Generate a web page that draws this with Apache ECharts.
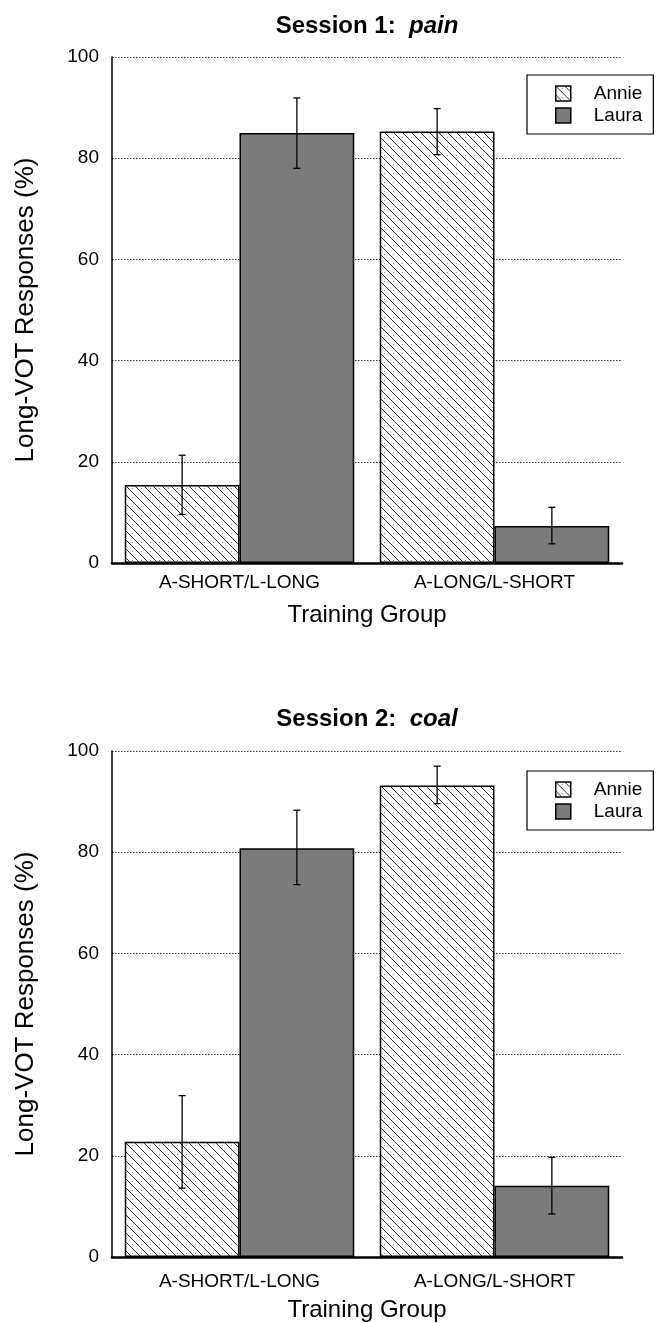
<!DOCTYPE html>
<html>
<head>
<meta charset="utf-8">
<script src="https://cdn.jsdelivr.net/npm/echarts@6/dist/echarts.min.js"></script>
<style>
html,body{margin:0;padding:0;background:#fff;}
#chart{width:659px;height:1323px;}
</style>
</head>
<body>
<div id="chart"></div>
<script>
// ---- data ----
const categories = ['A-SHORT/L-LONG', 'A-LONG/L-SHORT'];
const seriesNames = ['Annie', 'Laura'];
const yTicks = [0, 20, 40, 60, 80, 100];

const s1Annie   = [15.4, 85.3];
const s1AnnieLo = [9.6, 80.7];
const s1AnnieHi = [21.3, 89.8];
const s1Laura   = [85.0, 7.3];
const s1LauraLo = [78.0, 3.8];
const s1LauraHi = [91.9, 11.0];

const s2Annie   = [22.8, 93.2];
const s2AnnieLo = [13.6, 89.6];
const s2AnnieHi = [31.9, 97.0];
const s2Laura   = [80.8, 14.1];
const s2LauraLo = [73.6, 8.5];
const s2LauraHi = [88.3, 19.7];

const titles = [
  { main: 'Session 1:  ', word: 'pain' },
  { main: 'Session 2:  ', word: 'coal' }
];
const xName = 'Training Group';
const yName = 'Long-VOT Responses (%)';

// ---- styles ----
const FONT = 'Liberation Sans, Arial, Helvetica, sans-serif';
const LAURA_GRAY = '#7b7b7b';

function makeHatch() {
  const s = 9;
  const c = document.createElement('canvas');
  c.width = s; c.height = s;
  const g = c.getContext('2d');
  g.fillStyle = '#ffffff';
  g.fillRect(0, 0, s, s);
  g.strokeStyle = '#333333';
  g.lineWidth = 1;
  g.beginPath();
  g.moveTo(-1, -1); g.lineTo(s + 1, s + 1);
  g.stroke();
  g.fillStyle = '#8a8a8a';
  g.fillRect(6, 2, 1, 1);
  return c;
}
const hatch = { image: makeHatch(), repeat: 'repeat' };

const chart = echarts.init(document.getElementById('chart'), null, { renderer: 'canvas' });

const grids = [
  { left: 112, width: 510, top: 57, height: 506, outerBoundsMode: 'none', containLabel: false },
  { left: 112, width: 510, top: 751, height: 506, outerBoundsMode: 'none', containLabel: false }
];
const labelMargins = [10, 15];
const xNameGaps = [40, 41];

function errRender(side) {
  return function (params, api) {
    const cat = api.value(0);
    const lo = api.coord([cat, api.value(1)]);
    const hi = api.coord([cat, api.value(2)]);
    const band = api.size([1, 0])[0];
    const x = lo[0] + side * band * 0.225;
    const cap = 3.5;
    const st = { stroke: '#000', lineWidth: 1.3 };
    return {
      type: 'group',
      children: [
        { type: 'line', shape: { x1: x, y1: lo[1], x2: x, y2: hi[1] }, style: st },
        { type: 'line', shape: { x1: x - cap, y1: lo[1], x2: x + cap, y2: lo[1] }, style: st },
        { type: 'line', shape: { x1: x - cap, y1: hi[1], x2: x + cap, y2: hi[1] }, style: st }
      ]
    };
  };
}

function errData(lo, hi) {
  return categories.map((c, i) => [i, lo[i], hi[i]]);
}

const xAxes = grids.map((g, i) => ({
  type: 'category',
  gridIndex: i,
  data: categories,
  name: xName,
  nameLocation: 'middle',
  nameGap: xNameGaps[i],
  nameTextStyle: { fontSize: 24, color: '#000', fontFamily: FONT },
  axisLine: { show: true, lineStyle: { color: '#000', width: 2.5 } },
  axisTick: { show: false },
  axisLabel: { fontSize: 19, color: '#000', fontFamily: FONT, margin: labelMargins[i] },
  splitLine: { show: false }
}));

const yAxes = grids.map((g, i) => ({
  type: 'value',
  gridIndex: i,
  min: yTicks[0],
  max: yTicks[yTicks.length - 1],
  interval: yTicks[1] - yTicks[0],
  name: yName,
  nameLocation: 'middle',
  nameGap: 73,
  nameTextStyle: { fontSize: 26, color: '#000', fontFamily: FONT },
  axisLine: { show: true, lineStyle: { color: '#000', width: 1.5 } },
  axisTick: { show: false },
  axisLabel: { fontSize: 19, color: '#000', fontFamily: FONT, margin: 13 },
  splitLine: { show: true, lineStyle: { color: '#333', width: 1, type: [1.5, 1.5] } }
}));

const data = [
  { annie: s1Annie, laura: s1Laura, aLo: s1AnnieLo, aHi: s1AnnieHi, lLo: s1LauraLo, lHi: s1LauraHi },
  { annie: s2Annie, laura: s2Laura, aLo: s2AnnieLo, aHi: s2AnnieHi, lLo: s2LauraLo, lHi: s2LauraHi }
];

const series = [];
data.forEach((d, i) => {
  series.push({
    name: seriesNames[0], type: 'bar', xAxisIndex: i, yAxisIndex: i,
    data: d.annie, barGap: '0%', barCategoryGap: '10%',
    itemStyle: { color: hatch, borderColor: '#000', borderWidth: 1.5 },
    emphasis: { disabled: true }, z: 2
  });
  series.push({
    name: seriesNames[1], type: 'bar', xAxisIndex: i, yAxisIndex: i,
    data: d.laura, barGap: '0%', barCategoryGap: '10%',
    itemStyle: { color: LAURA_GRAY, borderColor: '#000', borderWidth: 1.5 },
    emphasis: { disabled: true }, z: 2
  });
  series.push({
    type: 'custom', xAxisIndex: i, yAxisIndex: i,
    renderItem: errRender(-1), data: errData(d.aLo, d.aHi),
    encode: { x: 0, y: [1, 2] }, z: 5, silent: true
  });
  series.push({
    type: 'custom', xAxisIndex: i, yAxisIndex: i,
    renderItem: errRender(1), data: errData(d.lLo, d.lHi),
    encode: { x: 0, y: [1, 2] }, z: 5, silent: true
  });
});

const titleTops = [9, 702];
const legendTops = [75, 771];

chart.setOption({
  animation: false,
  backgroundColor: '#fff',
  textStyle: { fontFamily: FONT },
  title: titles.map((t, i) => ({
    text: '{b|' + t.main + '}{i|' + t.word + '}',
    left: 362,
    top: titleTops[i],
    textAlign: 'center',
    textStyle: {
      rich: {
        b: { fontSize: 24, fontWeight: 'bold', color: '#000', fontFamily: FONT },
        i: { fontSize: 24, fontWeight: 'bold', fontStyle: 'italic', color: '#000', fontFamily: FONT }
      }
    }
  })),
  legend: legendTops.map((top, i) => ({
    data: seriesNames,
    orient: 'vertical',
    left: 527,
    top: top,
    itemWidth: 15,
    itemHeight: 15,
    itemGap: 3,
    padding: [9, 11, 9, 28],
    borderColor: '#000',
    borderWidth: 1.2,
    icon: 'rect',
    selectedMode: false,
    itemStyle: { borderColor: '#000', borderWidth: 1.5 },
    textStyle: { fontSize: 19, color: '#000', fontFamily: FONT, padding: [0, 0, 0, 18], lineHeight: 17 }
  })),
  grid: grids,
  xAxis: xAxes,
  yAxis: yAxes,
  series: series
});
</script>
</body>
</html>
